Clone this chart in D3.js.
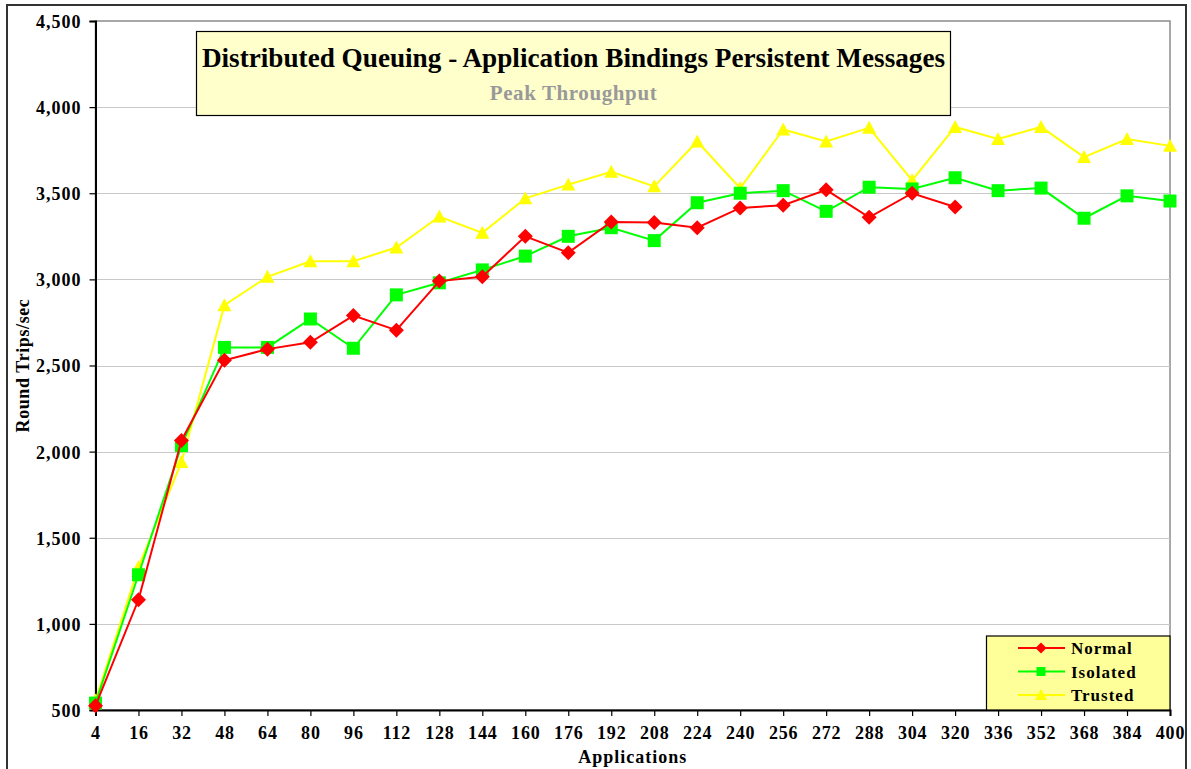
<!DOCTYPE html>
<html>
<head>
<meta charset="utf-8">
<script src="https://cdn.jsdelivr.net/npm/d3@7"></script>
<style>
  html, body { margin: 0; padding: 0; background: #ffffff; }
  svg { display: block; }
  text { font-family: "Liberation Serif", "Times New Roman", serif; font-weight: bold; }
</style>
</head>
<body>
<svg id="chart" width="1191" height="769"></svg>
<script>
// Number of applications (category axis)
const categories = [4, 16, 32, 48, 64, 80, 96, 112, 128, 144, 160, 176, 192, 208,
                    224, 240, 256, 272, 288, 304, 320, 336, 352, 368, 384, 400];

// Round trips per second for each binding type
const normal   = [525, 1140, 2065, 2530, 2595, 2635, 2790, 2705, 2990, 3015, 3250, 3155,
                  3333, 3330, 3300, 3415, 3430, 3520, 3360, 3500, 3420];
const isolated = [540, 1285, 2035, 2605, 2605, 2770, 2600, 2910, 2980, 3055, 3135, 3250,
                  3300, 3225, 3445, 3500, 3515, 3395, 3535, 3525, 3590, 3515, 3530, 3355,
                  3485, 3455];
const trusted  = [555, 1330, 1940, 2850, 3015, 3105, 3105, 3185, 3365, 3270, 3470, 3550,
                  3625, 3540, 3800, 3530, 3870, 3800, 3880, 3575, 3885, 3815, 3885, 3710,
                  3815, 3775];

const yTicks = [500, 1000, 1500, 2000, 2500, 3000, 3500, 4000, 4500];

const seriesNames  = ["Normal", "Isolated", "Trusted"];
const seriesValues = [normal, isolated, trusted];
const seriesColors = ["#ff0000", "#00ff00", "#ffff00"];
const seriesShapes = ["diamond", "square", "triangle"];

const titleText = "Distributed Queuing - Application Bindings Persistent Messages";
const subtitleText = "Peak Throughput";

const svg = d3.select("#chart");

const plot = { left: 95.5, right: 1170, top: 21, bottom: 710 };

const x = d3.scalePoint().domain(categories).range([plot.left, plot.right]);
const y = d3.scaleLinear().domain([500, 4500]).range([plot.bottom, plot.top]);

// Outer chart frame
svg.append("rect")
  .attr("x", 7).attr("y", 5).attr("width", 1179).attr("height", 820)
  .attr("fill", "#ffffff").attr("stroke", "#333333").attr("stroke-width", 2);

// Plot area frame
svg.append("rect")
  .attr("x", plot.left).attr("y", plot.top)
  .attr("width", plot.right - plot.left).attr("height", plot.bottom - plot.top)
  .attr("fill", "#ffffff").attr("stroke", "#8c8c8c").attr("stroke-width", 1.5);

// Horizontal gridlines
svg.append("g").selectAll("line")
  .data(yTicks.filter(d => d > 500 && d < 4500))
  .join("line")
  .attr("x1", plot.left).attr("x2", plot.right)
  .attr("y1", d => Math.round(y(d)) + 0.5).attr("y2", d => Math.round(y(d)) + 0.5)
  .attr("stroke", "#c8c8c8").attr("stroke-width", 1);

// Y axis
const yAxis = svg.append("g")
  .attr("transform", `translate(${plot.left},0)`)
  .call(d3.axisLeft(y).tickValues(yTicks).tickSize(6).tickPadding(8)
        .tickFormat(d3.format(",")));
yAxis.select(".domain").attr("stroke", "#000").attr("stroke-width", 2);
yAxis.selectAll(".tick line").attr("stroke", "#000").attr("stroke-width", 1.2);
yAxis.selectAll(".tick text")
  .attr("font-size", 18).attr("fill", "#000")
  .attr("font-family", "'Liberation Serif', serif").attr("font-weight", "bold")
  .attr("letter-spacing", 1).attr("dy", "0.36em");

// X axis
const xAxis = svg.append("g")
  .attr("transform", `translate(0,${plot.bottom})`)
  .call(d3.axisBottom(x).tickSize(6).tickPadding(10));
xAxis.select(".domain").attr("stroke", "#000").attr("stroke-width", 2);
xAxis.selectAll(".tick line").attr("stroke", "#000").attr("stroke-width", 1.2);
xAxis.selectAll(".tick text")
  .attr("font-size", 18).attr("fill", "#000")
  .attr("font-family", "'Liberation Serif', serif").attr("font-weight", "bold")
  .attr("letter-spacing", 0.8);

// Axis titles
svg.append("text")
  .attr("x", (plot.left + plot.right) / 2).attr("y", 763)
  .attr("text-anchor", "middle").attr("font-size", 18).attr("letter-spacing", 1)
  .text("Applications");

svg.append("text")
  .attr("transform", `translate(29,${(plot.top + plot.bottom) / 2}) rotate(-90)`)
  .attr("text-anchor", "middle").attr("font-size", 18).attr("letter-spacing", 0.6)
  .text("Round Trips/sec");

// Marker shapes
function markerPath(shape, s) {
  const h = s / 2;
  if (shape === "diamond") return `M0,${-h}L${h},0L0,${h}L${-h},0Z`;
  if (shape === "square") return `M${-h},${-h}H${h}V${h}H${-h}Z`;
  return `M0,${-h}L${h},${h * 0.85}L${-h},${h * 0.85}Z`;
}
const markerSize = { diamond: 15, square: 13, triangle: 14 };

const line = d3.line()
  .x((d, i) => x(categories[i]))
  .y(d => y(d));

// Series lines and markers (drawn so Normal sits on top)
const order = [2, 1, 0];
order.forEach(k => {
  const g = svg.append("g");
  g.append("path")
    .datum(seriesValues[k])
    .attr("d", line)
    .attr("fill", "none")
    .attr("stroke", seriesColors[k])
    .attr("stroke-width", 2);
  g.selectAll("path.mk")
    .data(seriesValues[k])
    .join("path")
    .attr("class", "mk")
    .attr("transform", (d, i) => `translate(${x(categories[i])},${y(d)})`)
    .attr("d", markerPath(seriesShapes[k], markerSize[seriesShapes[k]]))
    .attr("fill", seriesColors[k]);
});

// Title box
const tb = { x: 196.5, y: 31.5, w: 754, h: 84 };
svg.append("rect")
  .attr("x", tb.x).attr("y", tb.y).attr("width", tb.w).attr("height", tb.h)
  .attr("fill", "#ffffcc").attr("stroke", "#000").attr("stroke-width", 1.2);
svg.append("text")
  .attr("x", tb.x + tb.w / 2).attr("y", 67)
  .attr("text-anchor", "middle").attr("font-size", 27.2).attr("fill", "#000")
  .text(titleText);
svg.append("text")
  .attr("x", tb.x + tb.w / 2).attr("y", 100)
  .attr("text-anchor", "middle").attr("font-size", 21).attr("fill", "#999999")
  .attr("letter-spacing", 0.6)
  .text(subtitleText);

// Legend
const lg = { x: 986.5, y: 636, w: plot.right - 986.5, h: plot.bottom - 636 };
svg.append("rect")
  .attr("x", lg.x).attr("y", lg.y).attr("width", lg.w).attr("height", lg.h)
  .attr("fill", "#ffff99").attr("stroke", "#000").attr("stroke-width", 1.2);
const legendMarker = { diamond: 11, square: 9, triangle: 12 };
seriesNames.forEach((name, k) => {
  const ry = 648 + k * 23.5;
  svg.append("line")
    .attr("x1", 1018).attr("x2", 1065).attr("y1", ry).attr("y2", ry)
    .attr("stroke", seriesColors[k]).attr("stroke-width", 2);
  svg.append("path")
    .attr("transform", `translate(1041,${ry})`)
    .attr("d", markerPath(seriesShapes[k], legendMarker[seriesShapes[k]]))
    .attr("fill", seriesColors[k]);
  svg.append("text")
    .attr("x", 1071).attr("y", ry + 6)
    .attr("font-size", 17).attr("letter-spacing", 1).attr("fill", "#000")
    .text(name);
});
</script>
</body>
</html>
